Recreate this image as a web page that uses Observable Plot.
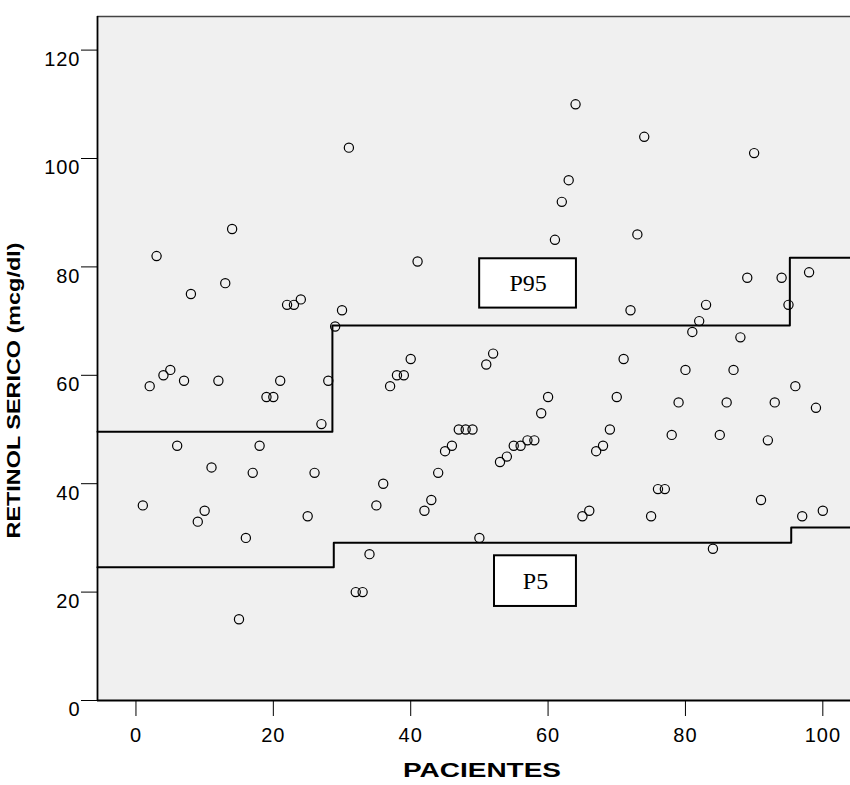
<!DOCTYPE html>
<html><head><meta charset="utf-8">
<script src="https://cdn.jsdelivr.net/npm/d3@7"></script>
<script src="https://cdn.jsdelivr.net/npm/@observablehq/plot@0.6"></script>
<style>
body{margin:0;background:#fff}
#chart svg{display:block}
#chart g[aria-label$="tick label"] text{letter-spacing:1px}
</style>
</head><body><div id="chart"></div>
<script>
// Patients (x) and serum retinol (y, mcg/dl)
const patients = d3.range(1, 101);
const retinol = [36,58,82,60,61,47,59,75,33,35,
                 43,59,77,87,15,30,42,47,56,56,
                 59,73,73,74,34,42,51,59,69,72,
                 102,20,20,27,36,40,58,60,60,63,
                 81,35,37,42,46,47,50,50,50,30,
                 62,64,44,45,47,47,48,48,53,56,
                 85,92,96,110,34,35,46,47,50,56,
                 63,72,86,104,34,39,39,49,55,61,
                 68,70,73,28,49,55,61,67,78,101,
                 37,48,55,78,73,58,34,79,54,35];

// Percentile step lines (x breakpoints, y values)
const xMin = -5.6, xMax = 104.03, yMax = 126.2;
const p95X = [xMin, 28.6, 95.2, xMax];
const p95Y = [49.6, 69.2, 81.7, 81.7];
const p5X  = [xMin, 28.8, 95.4, xMax];
const p5Y  = [24.6, 29.1, 31.9, 31.9];

// Label boxes
const boxLabels = ["P95", "P5"];
const boxX1 = [50.04, 52.2];
const boxX2 = [64.13, 64.13];
const boxY1 = [72.4, 17.35];
const boxY2 = [81.5, 26.7];

const xTicks = [0, 20, 40, 60, 80, 100];
const yTicks = [0, 20, 40, 60, 80, 100, 120];
const xTitle = "PACIENTES";
const yTitle = "RETINOL SERICO (mcg/dl)";

const pts = patients.map((p, i) => ({patient: p, retinol: retinol[i]}));
const p95 = p95X.map((x, i) => ({x, y: p95Y[i]}));
const p5 = p5X.map((x, i) => ({x, y: p5Y[i]}));
const boxes = boxLabels.map((l, i) => ({label: l, x1: boxX1[i], x2: boxX2[i], y1: boxY1[i], y2: boxY2[i]}));

const chart = Plot.plot({
  width: 850, height: 785,
  marginLeft: 97, marginRight: 0, marginTop: 16, marginBottom: 85,
  style: {fontFamily: "'Liberation Sans', Arial, sans-serif", fontSize: "20px", background: "white", color: "black"},
  x: {domain: [xMin, xMax], ticks: xTicks, tickSize: 16, tickPadding: 11, label: null},
  y: {domain: [0, yMax], ticks: yTicks, tickSize: 16, tickPadding: 1, label: null},
  marks: [
    Plot.frame({fill: "#f0f0f0", stroke: null}),
    Plot.ruleY([yMax], {stroke: "#444", strokeWidth: 1.5}),
    Plot.ruleX([xMin], {stroke: "black", strokeWidth: 1.8}),
    Plot.ruleY([0], {stroke: "black", strokeWidth: 1.8}),
    Plot.line(p95, {x: "x", y: "y", curve: "step-after", stroke: "black", strokeWidth: 2}),
    Plot.line(p5, {x: "x", y: "y", curve: "step-after", stroke: "black", strokeWidth: 2}),
    Plot.dot(pts, {x: "patient", y: "retinol", r: 4.6, stroke: "black", strokeWidth: 1.2, fill: "none"}),
    Plot.rect(boxes, {x1: "x1", x2: "x2", y1: "y1", y2: "y2", fill: "white", stroke: "black", strokeWidth: 2}),
    Plot.text(boxes, {x: d => (d.x1 + d.x2) / 2, y: d => (d.y1 + d.y2) / 2, text: "label",
      fontFamily: "'Liberation Serif', 'Times New Roman', serif", fontSize: 24, fill: "black"}),
    Plot.text([xTitle], {frameAnchor: "bottom", textAnchor: "middle", text: d => d, dx: 8, dy: 76, fontWeight: "bold", fontSize: 21, fill: "black"}),
    Plot.text([yTitle], {frameAnchor: "left", textAnchor: "middle", text: d => d, rotate: -90, dx: -83.5, dy: 32, fontWeight: "bold", fontSize: 18, fill: "black"})
  ]
});
document.getElementById("chart").appendChild(chart);
const texts = d3.select(chart).selectAll("text");
texts.filter(function() { return this.textContent === xTitle; })
  .attr("textLength", 158).attr("lengthAdjust", "spacingAndGlyphs");
texts.filter(function() { return this.textContent === yTitle; })
  .attr("textLength", 296).attr("lengthAdjust", "spacingAndGlyphs");
texts.filter(function() { return this.getAttribute("text-anchor") === "end" || (this.parentNode && this.parentNode.getAttribute("text-anchor") === "end"); })
  .attr("dy", "0.47em");
</script>
</body></html>
